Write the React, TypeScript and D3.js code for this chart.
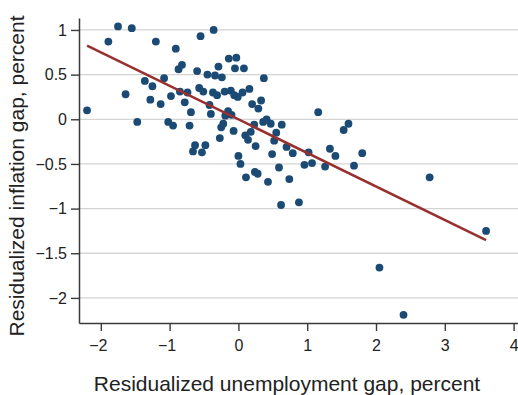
import React, { useEffect, useRef } from 'react';
import * as d3 from 'd3';

const unempGap = [
  -2.20, -1.89, -1.75, -1.55, -1.64, -1.47, -1.20, -1.36, -1.25, -1.08,
  -1.28, -1.13, -0.98, -0.91, -0.87, -0.82, -0.85, -0.74, -0.78, -0.69,
  -1.02, -0.95, -0.71, -0.60, -0.36, -0.55, -0.14, -0.03, -0.29, -0.05,
  0.08, -0.45, -0.34, -0.24, 0.37, -0.57, -0.51, -0.37, -0.31, -0.20,
  -0.11, -0.06, -0.01, 0.06, 0.16, 0.20, 0.33, 0.29, -0.42, -0.40,
  -0.15, -0.10, -0.19, -0.25, -0.22, -0.27, -0.07, 0.10, 0.14, 0.18,
  0.23, 0.36, 0.41, 0.47, 0.25, 0.55, 0.52, 0.63, -0.63, -0.66,
  -0.53, -0.48, 0.00, 0.03, 0.49, 0.59, 0.11, 0.24, 0.28, 0.43,
  0.62, 0.88, 1.16, 0.70, 0.79, 1.02, 0.96, 1.07, 0.74, 1.33,
  1.41, 1.26, 1.53, 1.60, 1.68, 1.80, 2.78, 3.60, 2.05, 2.40,
];
const inflGap = [
  0.10, 0.87, 1.04, 1.02, 0.28, -0.03, 0.87, 0.43, 0.37, 0.46,
  0.22, 0.17, 0.26, 0.79, 0.56, 0.61, 0.31, 0.30, 0.19, 0.08,
  -0.03, -0.07, -0.07, 0.54, 1.00, 0.93, 0.68, 0.69, 0.59, 0.57,
  0.57, 0.50, 0.49, 0.47, 0.46, 0.35, 0.31, 0.30, 0.27, 0.31,
  0.32, 0.27, 0.25, 0.30, 0.34, 0.17, 0.21, 0.12, 0.16, 0.06,
  0.09, 0.05, 0.04, -0.09, -0.05, -0.21, -0.13, -0.18, -0.23, -0.14,
  -0.06, -0.03, 0.00, -0.05, -0.30, -0.15, -0.24, -0.06, -0.29, -0.36,
  -0.37, -0.29, -0.41, -0.50, -0.39, -0.54, -0.65, -0.59, -0.61, -0.70,
  -0.96, -0.93, 0.08, -0.31, -0.38, -0.37, -0.51, -0.49, -0.67, -0.33,
  -0.41, -0.53, -0.12, -0.05, -0.52, -0.38, -0.65, -1.25, -1.66, -2.19,
];
const fitX = [-2.2, 3.6];
const fitY = [0.824, -1.352];
const xTicks = [-2, -1, 0, 1, 2, 3, 4];
const yTicks = [1, 0.5, 0, -0.5, -1, -1.5, -2];
// ————————————————————————————

const fmt = (v: number) => (v < 0 ? '\u2212' + String(-v) : String(v));

export default function App() {
  const ref = useRef<SVGSVGElement>(null);

  useEffect(() => {
    const fullW = 518;
    const fullH = 395;
    const left = 79, right = 518, top = 18, bottom = 323;
    const font = '"Liberation Sans", Arial, sans-serif';

    const svg = d3.select(ref.current);
    svg.selectAll('*').remove();
    svg.attr('width', fullW).attr('height', fullH).style('background', '#fff');

    const x = d3.scaleLinear().domain([-2.317, 4.064]).range([left, right]);
    const y = d3.scaleLinear().domain([-2.281, 1.134]).range([bottom, top]);

    // horizontal grid
    svg.append('g')
      .selectAll('line')
      .data(yTicks)
      .join('line')
      .attr('x1', left).attr('x2', right)
      .attr('y1', d => y(d)).attr('y2', d => y(d))
      .attr('stroke', '#d4d4d4')
      .attr('stroke-width', 1.3);

    // axes
    const yAxis = svg.append('g')
      .attr('transform', `translate(${left},0)`)
      .call(d3.axisLeft(y).tickValues(yTicks).tickSize(8).tickSizeOuter(0).tickPadding(4).tickFormat(d => fmt(+d)));
    const xAxis = svg.append('g')
      .attr('transform', `translate(0,${bottom})`)
      .call(d3.axisBottom(x).tickValues(xTicks).tickSize(8).tickSizeOuter(0).tickPadding(9).tickFormat(d => fmt(+d)));

    [xAxis, yAxis].forEach(a => {
      a.select('.domain').attr('stroke', '#3a3a3a').attr('stroke-width', 1.5);
      a.selectAll('.tick line').attr('stroke', '#3a3a3a').attr('stroke-width', 1.4);
      a.selectAll('.tick text')
        .attr('fill', '#222')
        .style('font-family', font)
        .style('font-size', '16px');
    });
    xAxis.selectAll('.tick text').attr('dx', d => (+d < 0 ? '-3px' : '0'));

    // points
    svg.append('g')
      .selectAll('circle')
      .data(unempGap.map((u, i) => [u, inflGap[i]]))
      .join('circle')
      .attr('cx', d => x(d[0]))
      .attr('cy', d => y(d[1]))
      .attr('r', 3.9)
      .attr('fill', '#1b4a74');

    // fitted line
    svg.append('path')
      .datum(fitX.map((v, i) => [v, fitY[i]]))
      .attr('fill', 'none')
      .attr('stroke', '#98302f')
      .attr('stroke-width', 2.5)
      .attr('d', d3.line<number[]>().x(d => x(d[0])).y(d => y(d[1])));

    // axis titles
    svg.append('text')
      .attr('x', 287)
      .attr('y', 391)
      .attr('text-anchor', 'middle')
      .attr('fill', '#222')
      .style('font-family', font)
      .style('font-size', '21px')
      .text('Residualized unemployment gap, percent');

    svg.append('text')
      .attr('transform', `translate(24,176) rotate(-90)`)
      .attr('text-anchor', 'middle')
      .attr('fill', '#222')
      .style('font-family', font)
      .style('font-size', '21px')
      .text('Residualized inflation gap, percent');
  }, []);

  return (
    <div style={{ position: 'absolute', left: 0, top: 0 }}>
      <svg ref={ref} />
    </div>
  );
}
